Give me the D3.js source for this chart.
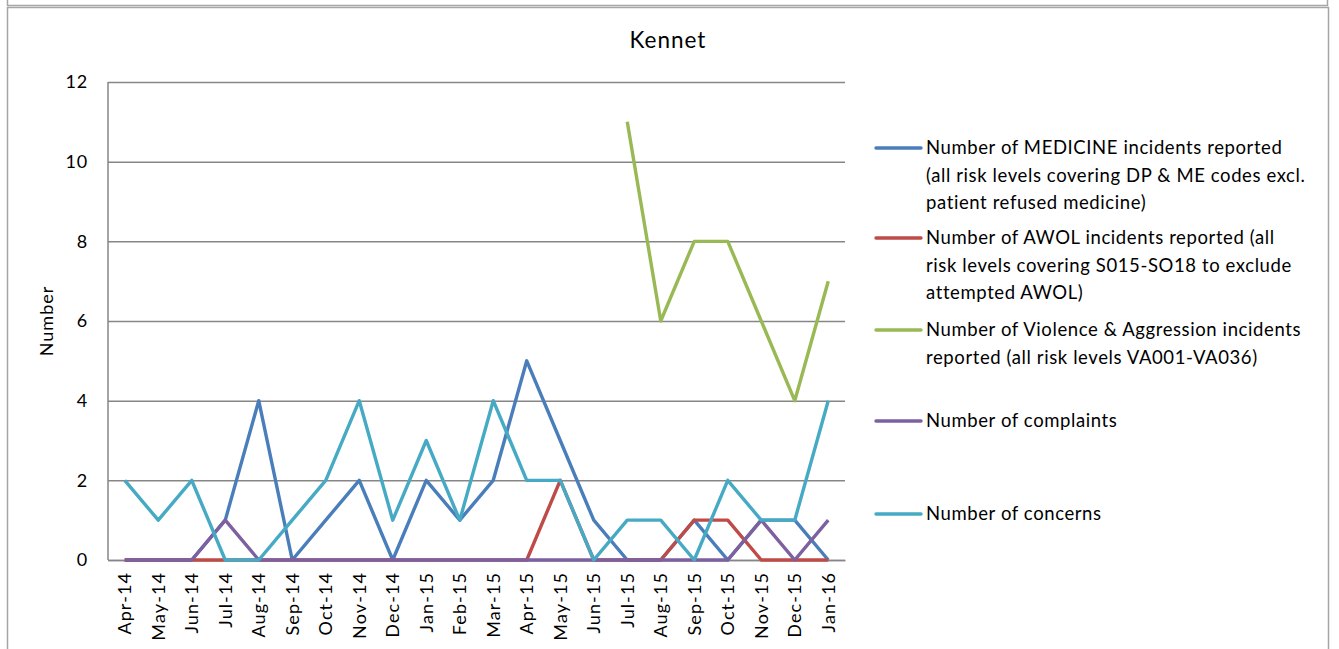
<!DOCTYPE html>
<html><head><meta charset="utf-8">
<script src="https://cdn.jsdelivr.net/npm/d3@7"></script>
<style>body{margin:0;background:#fff;}svg{display:block;font-family:Lato,"Open Sans",sans-serif;}</style>
</head><body>
<svg id="c" width="1339" height="649"></svg>
<script>
const months = ["Apr-14","May-14","Jun-14","Jul-14","Aug-14","Sep-14","Oct-14","Nov-14","Dec-14","Jan-15","Feb-15","Mar-15","Apr-15","May-15","Jun-15","Jul-15","Aug-15","Sep-15","Oct-15","Nov-15","Dec-15","Jan-16"];
const medicine   = [0,0,0,1,4,0,1,2,0,2,1,2,5,3,1,0,0,1,0,1,1,0];
const awol       = [0,0,0,0,0,0,0,0,0,0,0,0,0,2,0,0,0,1,1,0,0,0];
const violence   = [null,null,null,null,null,null,null,null,null,null,null,null,null,null,null,11,6,8,8,6,4,7];
const complaints = [0,0,0,1,0,0,0,0,0,0,0,0,0,0,0,0,0,0,0,1,0,1];
const concerns   = [2,1,2,0,0,1,2,4,1,3,1,4,2,2,0,1,1,0,2,1,1,4];
const yTicks = [0,2,4,6,8,10,12];
const seriesNames = [
  ["Number of MEDICINE incidents reported","(all risk levels covering DP & ME codes excl.","patient refused medicine)"],
  ["Number of AWOL incidents reported (all","risk levels covering S015-SO18 to exclude","attempted AWOL)"],
  ["Number of Violence & Aggression incidents","reported (all risk levels VA001-VA036)"],
  ["Number of complaints"],
  ["Number of concerns"]
];
const colors = ["#4a7ebb","#be4b48","#98b954","#7d60a0","#46aac5"];
const seriesData = [medicine, awol, violence, complaints, concerns];

const svg = d3.select("#c");
const grey = "#a6a6a6";
const FF = "Lato,'Open Sans',sans-serif";
// outer frames
svg.append("rect").attr("x",7.5).attr("y",-10).attr("width",1320).attr("height",15.5).attr("fill","none").attr("stroke",grey).attr("stroke-width",1.5);
svg.append("rect").attr("x",7.5).attr("y",7.5).attr("width",1321).attr("height",660).attr("fill","none").attr("stroke",grey).attr("stroke-width",1.5);

const L=108, R=845, T=82, B=560;
const x = d3.scaleBand().domain(months).range([L,R]);
const y = d3.scaleLinear().domain([0,12]).range([B,T]);

svg.append("text").attr("x",668).attr("y",48).attr("text-anchor","middle").attr("font-size",22.5).attr("letter-spacing",1).text("Kennet");

// gridlines
const yAxis = d3.axisLeft(y).tickValues(yTicks).tickSize(-(R-L)).tickPadding(20);
const ga = svg.append("g").attr("transform",`translate(${L},0)`).call(yAxis);
ga.select(".domain").remove();
ga.selectAll(".tick line").attr("stroke","#868686").attr("stroke-width",1.5);
ga.selectAll(".tick text").attr("font-size",18).attr("letter-spacing",0.8).attr("fill","#000").attr("font-family",FF);
svg.append("line").attr("x1",L).attr("x2",L).attr("y1",T).attr("y2",B).attr("stroke","#868686").attr("stroke-width",1.5);

// x axis labels
const xAxis = d3.axisBottom(x).tickSize(0).tickPadding(0);
const gx = svg.append("g").attr("transform",`translate(0,${B})`).call(xAxis);
gx.select(".domain").attr("stroke","#868686").attr("stroke-width",1.5);
gx.selectAll(".tick text").attr("font-size",18).attr("letter-spacing",1.1).attr("fill","#000").attr("font-family",FF)
  .attr("text-anchor","end").attr("transform","translate(0,12) rotate(-90)").attr("dy","0.35em").attr("x",0).attr("y",0);

svg.append("text").attr("transform","translate(53,321) rotate(-90)").attr("text-anchor","middle").attr("font-size",18).attr("letter-spacing",1).text("Number");

const line = d3.line().defined(d=>d.v!==null).x(d=>x(d.m)+x.bandwidth()/2).y(d=>y(d.v));
seriesData.forEach((s,i)=>{
  svg.append("path").datum(s.map((v,j)=>({m:months[j],v})))
    .attr("d",line).attr("fill","none").attr("stroke",colors[i]).attr("stroke-width",3.4).attr("stroke-linejoin","round");
});

// legend
const legY = [148,238,330,421,514];
seriesNames.forEach((lines,i)=>{
  const g = svg.append("g").attr("transform",`translate(876,${legY[i]})`);
  g.append("line").attr("x1",0).attr("x2",45).attr("y1",0).attr("y2",0).attr("stroke",colors[i]).attr("stroke-width",3.4).attr("stroke-linecap","round");
  lines.forEach((t,k)=>{
    g.append("text").attr("x",50).attr("y",k*27.5).attr("dy","0.35em").attr("font-size",18.5).attr("letter-spacing",0.6).text(t);
  });
});
</script>
</body></html>
